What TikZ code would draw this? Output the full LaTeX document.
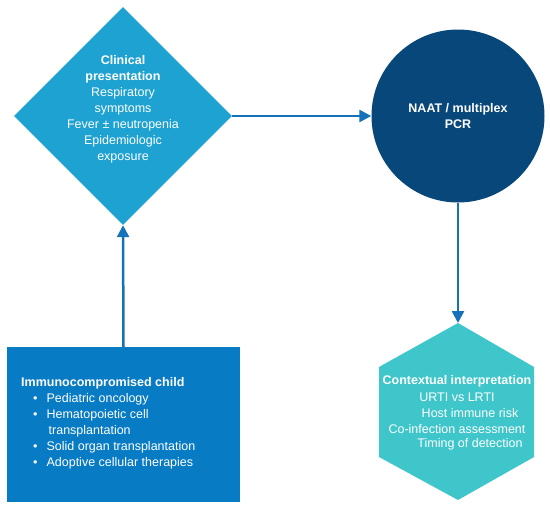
\documentclass[tikz,border=0pt]{standalone}
\usepackage{fontspec}
\setmainfont{Liberation Sans}
\usetikzlibrary{shapes.geometric,arrows.meta}
\definecolor{diacol}{HTML}{1DA2D1}
\definecolor{circol}{HTML}{08477A}
\definecolor{reccol}{HTML}{087BC5}
\definecolor{hexcol}{HTML}{3EC6CA}
\definecolor{arrcol}{HTML}{1672B8}
\tikzset{
  conn/.style={draw=arrcol, line width=2.5pt, -{Triangle[length=12pt,width=12pt]}},
  txt/.style={text=white, font=\fontsize{12.5}{16}\selectfont, inner sep=0pt},
}
\begin{document}
\begin{tikzpicture}[x=1pt,y=-1pt]
\useasboundingbox[fill=white] (0,0) rectangle (550,509);
% diamond
\node[diamond, fill=diacol, minimum width=218pt, minimum height=218pt, inner sep=0pt] (dia) at (123,116) {};
\node[txt, align=center] (diatxt) at (123,109) {\textbf{Clinical}\\\textbf{presentation}\\Respiratory\\symptoms\\Fever ± neutropenia\\Epidemiologic\\exposure};
% circle
\node[circle, fill=circol, minimum size=173pt, inner sep=0pt] (cir) at (458,116) {};
\node[txt, align=center, font=\bfseries\fontsize{12.5}{16}\selectfont] (cirtxt) at (458,116) {NAAT / multiplex\\PCR};
% rectangle
\node[rectangle, fill=reccol, minimum width=233pt, minimum height=155pt, inner sep=0pt] (rec) at (123.5,424.5) {};
\node[txt, align=left, anchor=north west] (rectxt) at (21,377) {\textbf{Immunocompromised child}\\
\hspace*{12pt}•\hspace*{9pt}Pediatric oncology\\
\hspace*{12pt}•\hspace*{9pt}Hematopoietic cell\\
\hspace*{27.5pt}transplantation\\
\hspace*{12pt}•\hspace*{9pt}Solid organ transplantation\\
\hspace*{12pt}•\hspace*{9pt}Adoptive cellular therapies};
% hexagon
\fill[hexcol] (458,323) -- (534,367) -- (534,457) -- (458,500) -- (379,457) -- (379,367) -- cycle;
\coordinate (hextop) at (458,323);
\node[txt, font=\bfseries\fontsize{12.5}{16}\selectfont] (h1) at (457,381) {Contextual interpretation};
\node[txt] (h2) at (457,397) {URTI vs LRTI};
\node[txt] (h3) at (470,413) {Host immune risk};
\node[txt] (h4) at (457,429) {Co-infection assessment};
\node[txt] (h5) at (470,444) {Timing of detection};
% connectors
\draw[conn] (dia.east) -- (cir.west);
\draw[conn] (cir.south) -- (hextop);
\draw[conn] (rec.north) -- (dia.south);
\end{tikzpicture}
\end{document}
